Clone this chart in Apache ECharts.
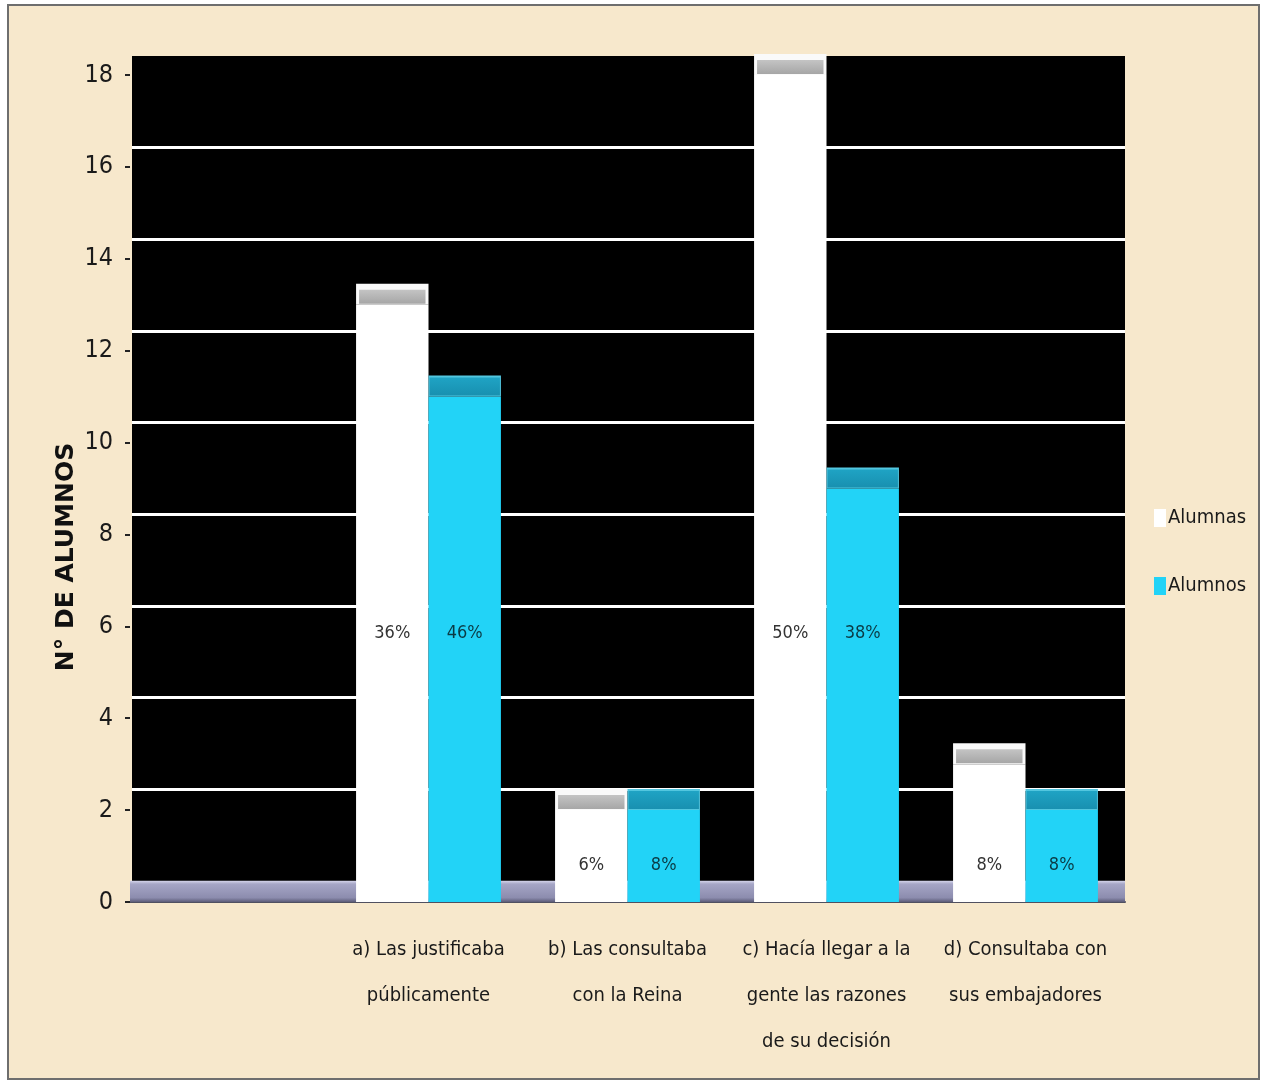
<!DOCTYPE html>
<html>
<head>
<meta charset="utf-8">
<script src="https://cdn.jsdelivr.net/npm/echarts@6/dist/echarts.min.js"></script>
<style>
html,body{margin:0;padding:0;background:#fff;}
#chart{width:1266px;height:1083px;}
</style>
</head>
<body>
<div id="chart"></div>
<script>
var categories = ['', 'a) Las justificaba\npúblicamente', 'b) Las consultaba\ncon la Reina', 'c) Hacía llegar a la\ngente las razones\nde su decisión', 'd) Consultaba con\nsus embajadores'];
var alumnas = [null, 13, 2, 18, 3];
var alumnos = [null, 11, 2, 9, 2];
var alumnasPct = ['', '36%', '6%', '50%', '8%'];
var alumnosPct = ['', '46%', '8%', '38%', '8%'];
var yTicks = { min: 0, max: 18, interval: 2 };

var NARROW = '"Liberation Sans Narrow", "DejaVu Sans Condensed", "Roboto Condensed", "Noto Sans", sans-serif';
var DEPTH = 21;

function buildData(vals, pcts) {
  var out = [];
  for (var i = 0; i < categories.length; i++) {
    if (vals[i] != null) out.push([i, vals[i], pcts[i]]);
  }
  return out;
}

function makeRender(side, face, capOuter, capInner, capInner2, inset, labelColor) {
  return function (params, api) {
    var ci = api.value(0), v = api.value(1);
    var base = api.coord([ci, 0]);
    var top = api.coord([ci, v]);
    var band = api.size([1, 0])[0];
    var bw = band * 0.364;
    var x = side === 0 ? base[0] - bw : base[0];
    var pairMax = Math.max(alumnas[ci], alumnos[ci]);
    var lv = pairMax > 6 ? 5.85 : 0.8;
    var lp = api.coord([ci, lv]);
    var pct = side === 0 ? alumnasPct[ci] : alumnosPct[ci];
    return {
      type: 'group',
      children: [
        { type: 'rect', shape: { x: x, y: top[1], width: bw, height: base[1] - top[1] }, style: { fill: face } },
        { type: 'rect', shape: { x: x, y: top[1] - DEPTH, width: bw, height: DEPTH }, style: { fill: capOuter } },
        { type: 'rect', shape: { x: x + inset[0], y: top[1] - DEPTH + inset[1], width: bw - 2 * inset[0], height: DEPTH - inset[1] - 1 },
          style: { fill: new echarts.graphic.LinearGradient(0, 0, 0, 1, [{ offset: 0, color: capInner }, { offset: 1, color: capInner2 }]) } },
        { type: 'text', x: x + bw / 2, y: lp[1],
          style: { text: pct, fill: labelColor, fontFamily: NARROW, fontSize: 18, align: 'center', verticalAlign: 'middle' } }
      ]
    };
  };
}

var chart = echarts.init(document.getElementById('chart'));
chart.setOption({
  backgroundColor: '#ffffff',
  animation: false,
  graphic: [
    { type: 'rect', z: -10, shape: { x: 8, y: 5, width: 1251, height: 1074 },
      style: { fill: '#f7e8cc', stroke: '#6e6e6e', lineWidth: 2 } },
    { type: 'text', z: 10, x: 66, y: 557, rotation: Math.PI / 2,
      style: { text: 'N° DE ALUMNOS', fill: '#111', fontFamily: '"DejaVu Sans", sans-serif', fontWeight: 'bold', fontSize: 25, align: 'center', verticalAlign: 'middle' } }
  ],
  legend: {
    orient: 'vertical',
    left: 1149,
    top: 503,
    itemWidth: 12,
    itemHeight: 18,
    itemGap: 48,
    icon: 'rect',
    data: ['Alumnas', 'Alumnos'],
    textStyle: { fontFamily: NARROW, fontSize: 20, color: '#1a1a1a', padding: [0, 0, 0, -3] }
  },
  grid: [
    { left: 130, right: 141, top: 75, bottom: 181 },
    { left: 132, right: 141, top: 56, bottom: 202, show: true, backgroundColor: '#000000', borderWidth: 0 }
  ],
  xAxis: [
    { type: 'category', gridIndex: 0, data: categories,
      axisTick: { show: false },
      axisLine: { show: true, lineStyle: { color: '#505060', width: 2 } },
      axisLabel: { interval: 0, fontFamily: NARROW, fontSize: 20, lineHeight: 46, margin: 25, color: '#1a1a1a' } },
    { type: 'category', gridIndex: 1, data: categories, show: false }
  ],
  yAxis: [
    { type: 'value', gridIndex: 0, min: yTicks.min, max: yTicks.max, interval: yTicks.interval,
      axisLine: { show: false },
      axisTick: { show: true, length: 5, lineStyle: { color: '#222', width: 2 } },
      splitLine: { show: false },
      axisLabel: { fontFamily: NARROW, fontSize: 25, margin: 17, color: '#1a1a1a' } },
    { type: 'value', gridIndex: 1, min: yTicks.min, max: yTicks.max, interval: yTicks.interval,
      axisLine: { show: false }, axisTick: { show: false }, axisLabel: { show: false },
      splitLine: { show: true, showMinLine: false, showMaxLine: false, lineStyle: { color: '#ffffff', width: 3 } } }
  ],
  series: [
    { name: 'floor', type: 'bar', xAxisIndex: 0, yAxisIndex: 0, data: [], z: 1, silent: true,
      markArea: { silent: true,
        itemStyle: { color: new echarts.graphic.LinearGradient(0, 0, 0, 1, [
          { offset: 0, color: '#d4d4ea' }, { offset: 0.15, color: '#a6a6c6' }, { offset: 0.8, color: '#8c8cae' }, { offset: 1, color: '#5c5c78' }]) },
        data: [[{ yAxis: 0.46 }, { yAxis: 0 }]] } },
    { name: 'Alumnas', type: 'custom', xAxisIndex: 0, yAxisIndex: 0, z: 3,
      itemStyle: { color: '#ffffff' },
      renderItem: makeRender(0, '#ffffff', '#fafafa', '#c4c4c4', '#a6a6a6', [3, 6], '#333333'),
      data: buildData(alumnas, alumnasPct) },
    { name: 'Alumnos', type: 'custom', xAxisIndex: 0, yAxisIndex: 0, z: 3,
      itemStyle: { color: '#22d3f7' },
      renderItem: makeRender(1, '#22d3f7', '#52c6df', '#1fa3c4', '#1890b0', [1, 2], '#0b3a44'),
      data: buildData(alumnos, alumnosPct) }
  ]
});
</script>
</body>
</html>
